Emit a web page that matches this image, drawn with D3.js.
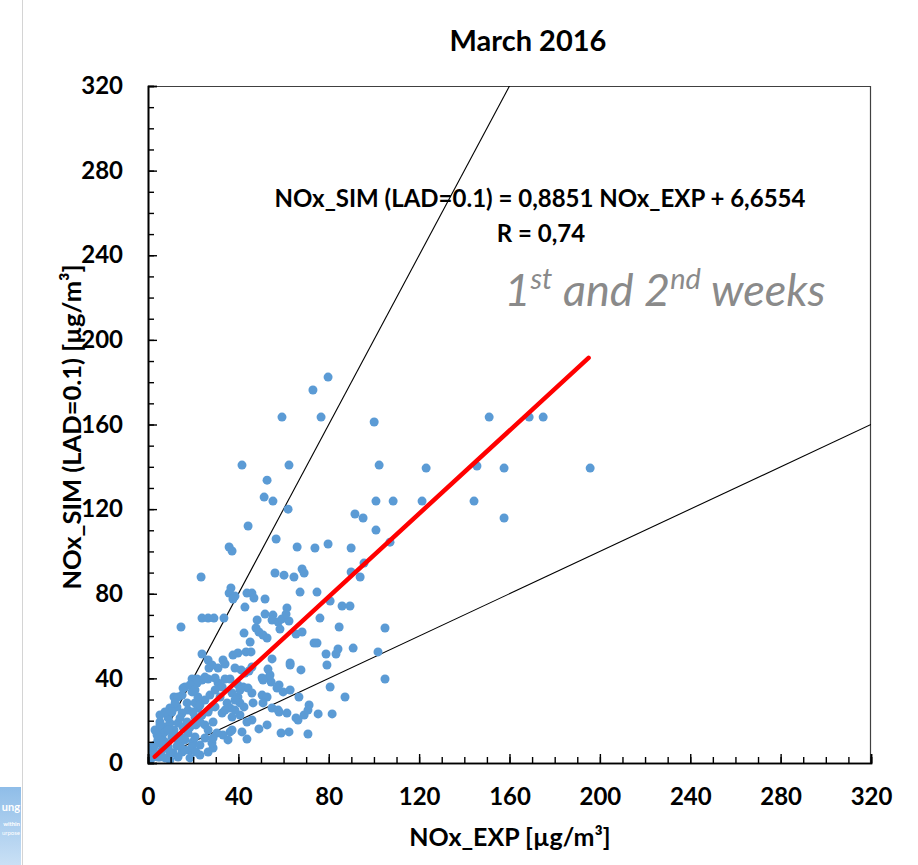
<!DOCTYPE html>
<html><head><meta charset="utf-8">
<script src="https://cdn.jsdelivr.net/npm/d3@7"></script>
<style>
body{margin:0;background:#fff;}
svg{display:block;}
text{font-family:Lato,"Open Sans",sans-serif;}
</style>
</head><body>
<svg id="chart" width="918" height="865"></svg>
<script>
// ---- data (µg/m³) ----
const noxExp = [23.5,35.9,37.2,41.6,44.3,52.7,51.4,55.3,59.3,62.4,62.0,56.7,56.2,60.2,64.6,68.2,69.1,66.0,73.0,79.7,76.6,73.9,79.7,89.9,91.6,95.2,89.9,93.9,95.6,100.1,102.3,100.9,108.5,121.3,100.9,107.1,123.1,151.0,168.7,174.9,145.6,157.6,195.7,144.3,157.6,
36.7,35.9,38.5,37.6,43.8,46.0,46.9,51.8,67.3,74.8,80.6,85.9,89.4,42.9,61.5,51.8,55.3,54.9,57.6,59.3,62.4,61.1,48.3,33.6,23.9,26.6,29.2,14.6,47.8,49.1,58.4,76.1,84.6,104.9,42.5,65.5,68.2,45.2,52.7,50.9,73.5,74.8,
23.9,26.6,27.0,33.2,34.1,31.0,37.6,39.8,43.4,45.6,54.9,62.9,78.8,83.2,84.1,90.8,101.8,79.2,67.7,41.2,44.7,53.1,19.5,21.7,23.9,26.6,15.5,34.1,36.3,31.0,39.8,42.1,44.3,50.5,53.6,54.5,58.0,57.1,59.8,62.9,104.9,80.6,66.8,87.2,
11.5,12.8,15.1,17.3,20.8,22.1,25.2,29.7,35.0,36.3,39.8,40.7,42.5,46.5,50.5,52.7,50.9,54.9,58.0,61.5,65.5,69.1,71.3,70.8,75.3,81.5,40.7,32.8,28.8,43.8,52.7,49.1,41.6,43.8,58.9,62.4,70.8,36.3,33.2,30.5,28.8,25.2,19.9,15.1,
5.3,7.5,4.4,6.2,9.7,11.5,15.5,2.2,5.3,8.9,11.1,18.6,23.0,17.7,28.3,38.5,42.9,25.2,29.7,21.7,16.4,13.3,12.0,19.5,22.1,28.3,32.8,37.2,17.7,15.1,20.8,23.9,38.5,37.2,8.9,7.5,13.3,4.4,7.5,10.6,13.3,20.8,37.2,28.3,35.4,
1.8,3.1,6.2,4.4,7.5,16.4,19.5,1.8,0.9,46.0,54.0,50.9,62.9,46.0,57.6,66.4,46.0,
3.1,5.3,8.9,12.0,14.2,16.4,18.6,21.2,25.2,26.6,23.0,27.4,29.7,31.9,34.1,38.5,40.7,18.6,20.8,9.7,7.5,5.3,26.6,23.0,13.3,9.7,18.6,
4.0,6.6,9.7,12.8,15.5,17.3,14.2,10.6,19.9,23.0,26.6,28.8,21.2,3.1,5.3];
const noxSim = [87.9,102.1,100.2,140.8,112.0,133.7,125.7,123.8,163.5,140.8,120.0,105.9,89.8,88.8,87.9,91.7,89.8,102.1,176.3,182.4,163.5,101.6,103.5,101.6,117.7,115.8,90.3,87.9,94.5,161.2,140.8,123.8,123.8,123.8,110.1,104.4,139.4,163.5,163.5,163.5,140.4,139.4,139.4,123.8,115.8,
82.7,80.3,78.9,77.5,80.3,80.3,78.0,77.5,80.8,80.8,76.6,74.2,74.2,73.7,73.3,70.4,69.9,67.6,66.6,68.1,67.1,70.4,67.6,68.5,68.5,68.5,68.5,64.3,63.8,61.9,63.3,68.5,64.3,63.8,61.4,61.0,61.9,57.2,59.1,60.5,56.7,56.7,
51.5,48.7,44.9,48.7,46.8,44.9,51.0,52.0,52.5,52.5,49.2,47.3,51.5,51.5,53.9,54.3,52.5,46.3,44.0,44.0,43.5,44.4,39.7,39.7,39.2,39.7,35.4,39.7,39.7,37.8,36.9,35.9,35.4,40.2,40.6,38.3,36.9,35.4,33.6,34.5,39.7,35.9,31.2,31.2,
31.2,26.5,32.1,28.4,28.4,26.0,29.8,26.5,28.4,26.0,31.2,28.4,26.5,28.4,32.1,31.2,28.4,26.0,24.1,23.6,21.3,22.7,27.4,25.0,23.2,23.2,22.7,23.6,19.4,19.4,18.0,16.1,14.7,11.3,14.2,14.7,13.7,14.7,13.2,14.2,7.1,11.8,9.9,5.2,
19.4,17.0,15.6,12.3,18.9,15.6,17.0,5.2,2.8,7.6,4.7,6.1,8.5,14.2,46.3,44.9,42.5,40.6,40.2,37.8,35.9,31.2,28.4,33.6,31.2,26.5,35.9,33.1,25.0,23.6,21.7,22.7,25.0,21.7,21.3,14.7,18.9,10.9,9.9,12.3,10.9,12.3,15.6,9.5,10.9,
7.6,4.7,6.1,2.8,2.4,6.1,7.6,2.4,1.4,45.4,41.6,39.2,46.3,33.1,25.0,20.3,20.3,
8.5,10.9,15.6,13.2,8.5,10.9,17.0,18.0,18.0,15.6,27.4,32.1,34.5,31.2,25.0,29.8,34.5,36.9,34.5,26.0,24.1,22.7,5.2,3.8,2.8,1.4,2.4,
13.2,8.5,5.2,8.0,11.8,19.4,21.3,24.1,24.1,19.4,24.1,11.8,5.2,15.6,18.0];
const fitLineExp = [3, 195];
const fitLineSim = [3, 191.5];
const guideSlopes = [2, 0.5];
const majorTicks = [0, 40, 80, 120, 160, 200, 240, 280, 320];
const minorTicks = d3.range(0, 321, 10);
const titleText = "March 2016";
const xTitle = "NOx_EXP [µg/m³]";
const yTitle = "NOx_SIM (LAD=0.1) [µg/m³]";
const eqText = "NOx_SIM (LAD=0.1) = 0,8851 NOx_EXP + 6,6554";
const rText = "R = 0,74";
const fragmentLines = ["ung", "within", "urpose"];

// ---- layout ----
const svg = d3.select("#chart");
const defs = svg.append("defs");
const x = d3.scaleLinear().domain([0, 320]).range([148, 871]);
const y = d3.scaleLinear().domain([0, 320]).range([763, 86]);

// page frame + fragment of neighbouring slide
const grad = defs.append("linearGradient").attr("id","frag").attr("x1",0).attr("y1",0).attr("x2",0).attr("y2",1);
grad.append("stop").attr("offset","0%").attr("stop-color","#8fbde8");
grad.append("stop").attr("offset","100%").attr("stop-color","#c9e0f5");
svg.append("rect").attr("x",0).attr("y",787).attr("width",21).attr("height",78).attr("fill","url(#frag)");
svg.append("text").attr("x",20).attr("y",811).attr("text-anchor","end").attr("fill","#fff").attr("font-size",11).attr("font-weight","bold").text(fragmentLines[0]);
svg.append("text").attr("x",20).attr("y",826).attr("text-anchor","end").attr("fill","#fff").attr("font-size",6).attr("font-weight","bold").text(fragmentLines[1]);
svg.append("text").attr("x",20).attr("y",835).attr("text-anchor","end").attr("fill","#fff").attr("font-size",6).text(fragmentLines[2]);
svg.append("line").attr("x1",22.5).attr("x2",22.5).attr("y1",0).attr("y2",865).attr("stroke","#d4d4d4").attr("stroke-width",1);

// clip for plot
defs.append("clipPath").attr("id","plotclip")
  .append("rect").attr("x",148).attr("y",86).attr("width",723).attr("height",677);

// plot box (top & right)
svg.append("line").attr("x1",148).attr("x2",871).attr("y1",86.5).attr("y2",86.5).attr("stroke","#404040").attr("stroke-width",1.2);
svg.append("line").attr("x1",870.5).attr("x2",870.5).attr("y1",86).attr("y2",763).attr("stroke","#404040").attr("stroke-width",1.2);

// guide lines 1:2 and 2:1
const line = d3.line().x(d => x(d[0])).y(d => y(d[1]));
const pg = svg.append("g").attr("clip-path","url(#plotclip)");
guideSlopes.forEach(s => {
  const xe = Math.min(320, 320 / s);
  pg.append("path").attr("d", line([[0,0],[xe, s*xe]])).attr("fill","none").attr("stroke","#000").attr("stroke-width",1.1);
});

// points
pg.selectAll("circle").data(noxExp.map((v,i)=>[v,noxSim[i]])).join("circle")
  .attr("cx", d => x(d[0])).attr("cy", d => y(d[1])).attr("r", 4.5).attr("fill","#5b9bd5");

// regression line
pg.append("path").attr("d", line(fitLineExp.map((v,i)=>[v, fitLineSim[i]])))
  .attr("fill","none").attr("stroke","#ff0000").attr("stroke-width",4.5).attr("stroke-linecap","round");

// axes
const fontSize = 24;
function styleAxis(g){ g.select(".domain").attr("stroke","#000").attr("stroke-width",1.6); g.selectAll(".tick line").attr("stroke","#000").attr("stroke-width",1.4); }
svg.append("g").attr("transform","translate(148,0)")
  .call(d3.axisLeft(y).tickValues(minorTicks).tickSize(-6).tickFormat(""))
  .call(styleAxis);
svg.append("g").attr("transform","translate(148,0)")
  .call(d3.axisLeft(y).tickValues(majorTicks).tickSize(-9).tickPadding(25).tickFormat(d3.format("d")))
  .call(styleAxis)
  .call(g => g.selectAll("text").attr("font-size",fontSize).attr("font-weight","bold").attr("fill","#000").attr("font-family","Lato"));
svg.append("g").attr("transform","translate(0,763)")
  .call(d3.axisBottom(x).tickValues(minorTicks).tickSize(-6).tickFormat(""))
  .call(styleAxis);
svg.append("g").attr("transform","translate(0,763)")
  .call(d3.axisBottom(x).tickValues(majorTicks).tickSize(-9).tickPadding(25).tickFormat(d3.format("d")))
  .call(styleAxis)
  .call(g => g.selectAll("text").attr("font-size",fontSize).attr("font-weight","bold").attr("fill","#000").attr("font-family","Lato"));

// titles
svg.append("text").attr("x",528).attr("y",51).attr("text-anchor","middle").attr("font-size",29).attr("font-weight","bold").text(titleText);
svg.append("text").attr("x",510).attr("y",846).attr("text-anchor","middle").attr("font-size",25).attr("font-weight","bold").text(xTitle);
svg.append("text").attr("transform","translate(81,427) rotate(-90)").attr("text-anchor","middle").attr("font-size",25.5).attr("font-weight","bold").text(yTitle);

// annotations
svg.append("text").attr("x",540).attr("y",207).attr("text-anchor","middle").attr("font-size",24).attr("font-weight","bold").text(eqText);
svg.append("text").attr("x",541).attr("y",242).attr("text-anchor","middle").attr("font-size",24).attr("font-weight","bold").text(rText);
const wk = svg.append("text").attr("x",665).attr("y",306).attr("text-anchor","middle").attr("font-size",45).attr("font-style","italic").attr("font-weight",400).attr("fill","#8a8a8a");
wk.append("tspan").text("1");
wk.append("tspan").attr("dy",-17).attr("font-size",29).text("st");
wk.append("tspan").attr("dy",17).text(" and 2");
wk.append("tspan").attr("dy",-17).attr("font-size",29).text("nd");
wk.append("tspan").attr("dy",17).text(" weeks");
</script>
</body></html>
